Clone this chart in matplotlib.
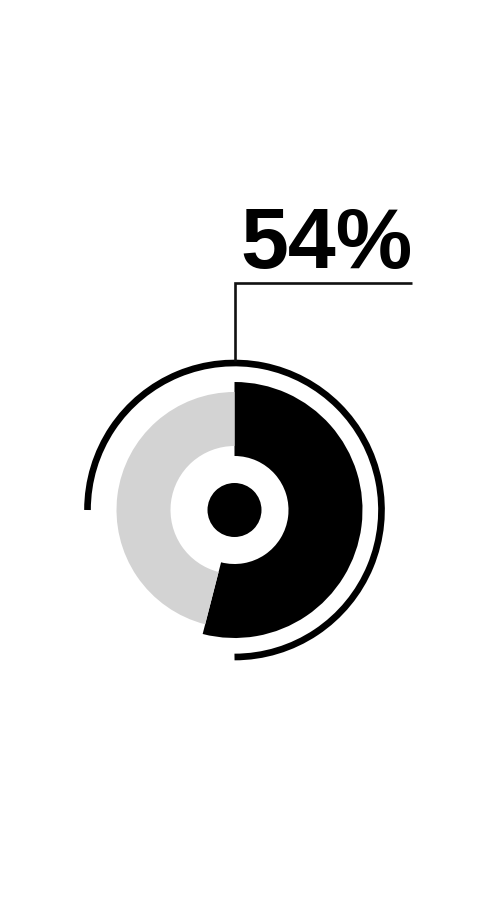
import matplotlib
matplotlib.use("Agg")
import matplotlib.pyplot as plt
from matplotlib.patches import Circle, Arc

values = [54, 46]
label = "54%"
seg_colors = ["#000000", "#d3d3d3"]

W, H = 480, 910
fig = plt.figure(figsize=(W / 100, H / 100), dpi=100)
ax = fig.add_axes([0, 0, 1, 1])

cx, cy = 234.5, H - 510

# black segment (larger ring)
ax.pie(values, colors=[seg_colors[0], "none"], radius=128, center=(cx, cy),
       startangle=90, counterclock=False,
       wedgeprops=dict(width=74, linewidth=0))
# grey segment (smaller ring)
ax.pie(values, colors=["none", seg_colors[1]], radius=118, center=(cx, cy),
       startangle=90, counterclock=False,
       wedgeprops=dict(width=54, linewidth=0))

# center dot
ax.add_patch(Circle((cx, cy), 27, color="black", lw=0))

# outer arc
ax.add_patch(Arc((cx, cy), 2 * 147, 2 * 147, theta1=270, theta2=180,
                 color="black", lw=4.8))

# leader line
ax.plot([cx, cx, 411.5], [H - 361, H - 283, H - 283], color="#111111",
        lw=1.9, solid_capstyle="butt", solid_joinstyle="miter")

ax.text(240, H - 268, label, fontsize=62, fontweight="bold",
        family="Liberation Sans", ha="left", va="baseline", color="black")

ax.set_xlim(0, W)
ax.set_ylim(0, H)
ax.set_aspect("equal")
ax.axis("off")
fig.savefig("out.png", dpi=100, facecolor="white")
